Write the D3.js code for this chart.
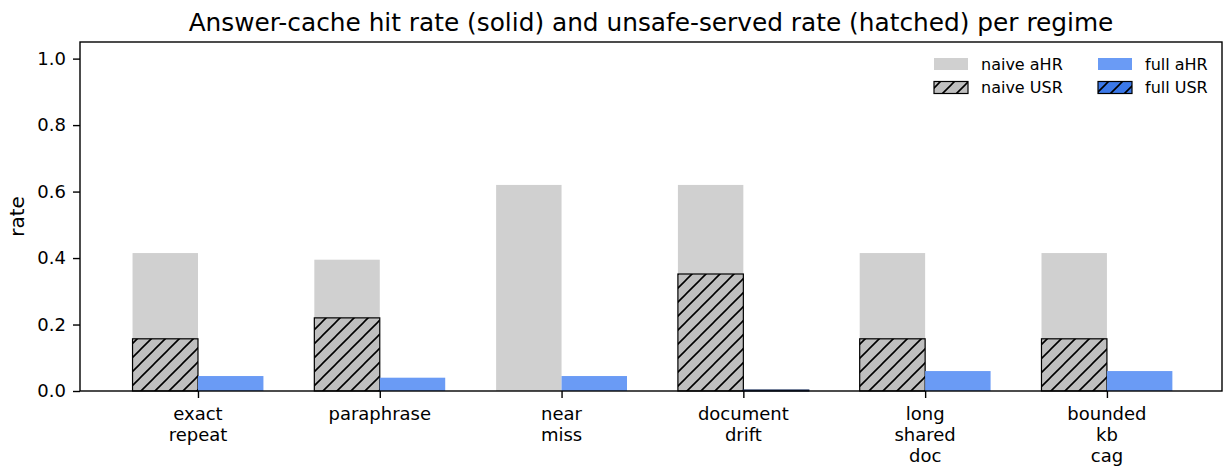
<!DOCTYPE html>
<html><head><meta charset="utf-8">
<script src="https://cdn.jsdelivr.net/npm/d3@7"></script>
<style>body{margin:0;background:#fff}svg{display:block}text{font-family:"DejaVu Sans",sans-serif;fill:#000}</style>
</head><body><div id="chart"></div>
<script>
const categories = ["exact\nrepeat","paraphrase","near\nmiss","document\ndrift","long\nshared\ndoc","bounded\nkb\ncag"];
const naiveAHR = [0.415,0.395,0.62,0.62,0.415,0.415];
const naiveUSR = [0.157,0.22,0,0.352,0.157,0.157];
const fullAHR = [0.045,0.04,0.045,0.003,0.06,0.06];
const fullUSR = [0,0,0,0.003,0,0];
const yTicks = [0,0.2,0.4,0.6,0.8,1.0];
const legendItems = [
  {label:"naive aHR", fill:"#d0d0d0", hatch:null},
  {label:"naive USR", fill:"#bfbfbf", hatch:"hg"},
  {label:"full aHR", fill:"#6a9bf5", hatch:null},
  {label:"full USR", fill:"#3b78e8", hatch:"hb"}
];
const W=1225,H=466;
const m={l:80,r:3,t:42,b:75};
const barW=0.36;
const svg=d3.select("#chart").append("svg").attr("width",W).attr("height",H);
const defs=svg.append("defs");
function mkPattern(id,fill){
  const s=14;
  const p=defs.append("pattern").attr("id",id).attr("patternUnits","userSpaceOnUse").attr("width",s).attr("height",s);
  p.append("rect").attr("width",s).attr("height",s).attr("fill",fill);
  p.append("path").attr("d",`M${-s},${s} L${s},${-s} M0,${s} L${s},0 M0,${2*s} L${2*s},0`).attr("stroke","#000").attr("stroke-width",1.6);
}
mkPattern("hg","#bfbfbf");
mkPattern("hb","#3b78e8");
const x=d3.scaleLinear().domain([-0.649,5.633]).range([m.l,W-m.r]);
const y=d3.scaleLinear().domain([0,1.05]).range([H-m.b,m.t]);
const g=svg.append("g");
function bars(vals,off,fill,stroke,sw){
  g.selectAll(null).data(vals).enter().append("rect")
   .attr("x",(d,i)=>x(i+off)).attr("width",(d,i)=>x(i+off+barW)-x(i+off))
   .attr("y",d=>y(d)).attr("height",d=>y(0)-y(d))
   .attr("fill",fill).attr("stroke",stroke||"none").attr("stroke-width",stroke?sw:0);
}
bars(naiveAHR,-barW,"#d0d0d0");
bars(naiveUSR,-barW,"url(#hg)","#000",1.2);
bars(fullAHR,0,"#6a9bf5");
bars(fullUSR,0,"url(#hb)","#1b2f5a",1.2);
// axes
const yAxis=d3.axisLeft(y).tickValues(yTicks).tickFormat(d3.format(".1f")).tickSize(7).tickPadding(7);
const ya=svg.append("g").attr("transform",`translate(${m.l},0)`).call(yAxis);
ya.select(".domain").remove();
ya.selectAll("line").attr("stroke","#000").attr("stroke-width",1.4);
ya.selectAll("text").attr("font-size","18px").attr("font-family","DejaVu Sans");
const xAxis=d3.axisBottom(x).tickValues(d3.range(categories.length)).tickFormat("").tickSize(7);
const xa=svg.append("g").attr("transform",`translate(0,${H-m.b})`).call(xAxis);
xa.select(".domain").remove();
xa.selectAll("line").attr("stroke","#000").attr("stroke-width",1.4);
categories.forEach((c,i)=>{
  const t=svg.append("text").attr("x",x(i)).attr("y",H-m.b+12).attr("text-anchor","middle").attr("font-size","18px");
  c.split("\n").forEach((ln,j)=>t.append("tspan").attr("x",x(i)).attr("dy",j===0?"0.95em":"1.17em").text(ln));
});
svg.append("rect").attr("x",m.l).attr("y",m.t).attr("width",W-m.r-m.l).attr("height",H-m.b-m.t).attr("fill","none").attr("stroke","#000").attr("stroke-width",1.4);
svg.append("text").attr("transform",`translate(24,${(m.t+H-m.b)/2}) rotate(-90)`).attr("text-anchor","middle").attr("font-size","20px").text("rate");
svg.append("text").attr("x",(m.l+W-m.r)/2).attr("y",31).attr("text-anchor","middle").attr("font-size","24.8px").text("Answer-cache hit rate (solid) and unsafe-served rate (hatched) per regime");
// legend
const lg=svg.append("g");
legendItems.forEach((it,k)=>{
  const col=Math.floor(k/2),row=k%2;
  const px=934+col*164, py=58+row*23.5;
  lg.append("rect").attr("x",px).attr("y",py).attr("width",34).attr("height",12)
    .attr("fill",it.hatch?`url(#${it.hatch})`:it.fill)
    .attr("stroke",it.hatch?"#000":"none").attr("stroke-width",1.2);
  lg.append("text").attr("x",px+47).attr("y",py+11.5).attr("font-size","16px").text(it.label);
});
</script></body></html>
